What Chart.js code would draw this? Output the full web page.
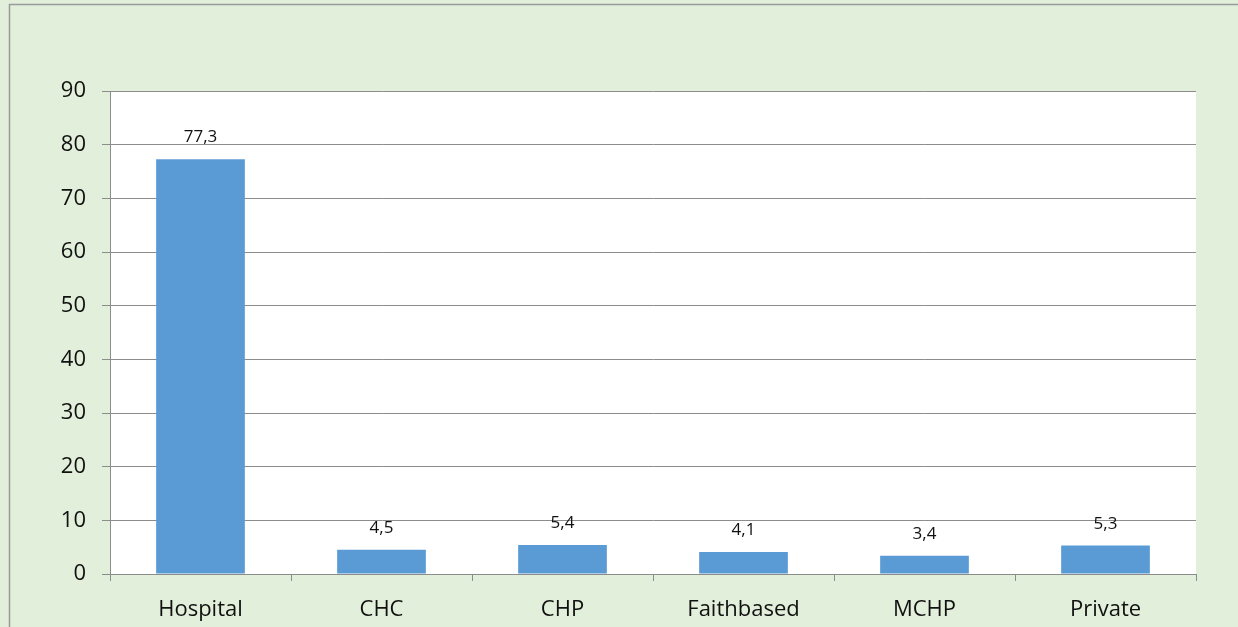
<!DOCTYPE html>
<html>
<head>
<meta charset="utf-8">
<script src="https://cdn.jsdelivr.net/npm/chart.js@4"></script>
<style>
  html, body { margin: 0; padding: 0; background: #e2efda; }
  #wrap { width: 1238px; height: 627px; position: relative; }
</style>
</head>
<body>
<div id="wrap"><canvas id="chart" width="1238" height="627"></canvas></div>
<script>
const categories = ["Hospital", "CHC", "CHP", "Faithbased", "MCHP", "Private"];
const values = [77.3, 4.5, 5.4, 4.1, 3.4, 5.3];
const yTicks = [0, 10, 20, 30, 40, 50, 60, 70, 80, 90];

const barColor = "#5b9bd5";
const gridColor = "#8c8c8c";

// 배경(연두색 + 테두리)과 흰색 플롯 영역
const backgroundPlugin = {
  id: "bg",
  beforeDraw(chart) {
    const { ctx, chartArea } = chart;
    ctx.save();
    ctx.fillStyle = "#e2efda";
    ctx.fillRect(0, 0, chart.width, chart.height);
    ctx.strokeStyle = "#9a9a9a";
    ctx.lineWidth = 1.5;
    ctx.beginPath();
    ctx.moveTo(9.5, chart.height + 2);
    ctx.lineTo(9.5, 4.5);
    ctx.lineTo(chart.width + 2, 4.5);
    ctx.stroke();
    ctx.fillStyle = "#ffffff";
    ctx.fillRect(chartArea.left, chartArea.top, chartArea.right - chartArea.left, chartArea.bottom - chartArea.top);
    ctx.restore();
  },
};

// 막대 위 값 표시 (소수점은 쉼표)
const valueLabelPlugin = {
  id: "valueLabel",
  afterDatasetsDraw(chart) {
    const { ctx } = chart;
    const meta = chart.getDatasetMeta(0);
    ctx.save();
    ctx.font = "17px 'Open Sans', sans-serif";
    ctx.fillStyle = "#111";
    ctx.textAlign = "center";
    ctx.textBaseline = "alphabetic";
    meta.data.forEach(function (bar, i) {
      ctx.fillText(String(values[i]).replace(".", ","), bar.x, bar.y - 17);
    });
    ctx.restore();
  },
};

new Chart(document.getElementById("chart"), {
  type: "bar",
  data: {
    labels: categories,
    datasets: [
      {
        data: values,
        backgroundColor: barColor,
        categoryPercentage: 1,
        barPercentage: 0.49,
      },
    ],
  },
  options: {
    responsive: false,
    animation: false,
    layout: { padding: { left: 0, top: 91, right: 42, bottom: 0 } },
    plugins: { legend: { display: false }, tooltip: { enabled: false } },
    scales: {
      x: {
        offset: true,
        grid: {
          offset: true,
          drawOnChartArea: false,
          drawTicks: true,
          tickLength: 7,
          color: gridColor,
        },
        border: { color: gridColor, width: 1 },
        ticks: {
          color: "#111",
          font: { family: "'Open Sans', sans-serif", size: 22 },
          padding: 16,
        },
        afterFit(scale) { scale.height = 53; },
      },
      y: {
        min: 0,
        max: 90,
        afterBuildTicks(scale) { scale.ticks = yTicks.map((v) => ({ value: v })); },
        grid: { color: gridColor, tickLength: 8, lineWidth: 1 },
        border: { color: gridColor, width: 1 },
        ticks: {
          color: "#111",
          font: { family: "'Open Sans', sans-serif", size: 22 },
          padding: 16,
        },
        afterFit(scale) { scale.width = 110; },
      },
    },
  },
  plugins: [backgroundPlugin, valueLabelPlugin],
});
</script>
</body>
</html>
